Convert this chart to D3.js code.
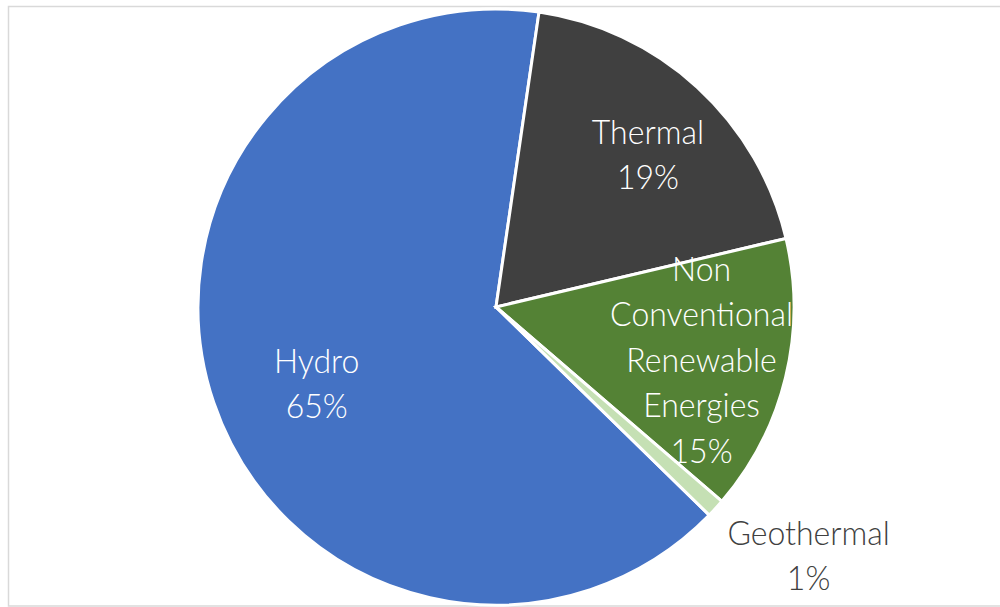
<!DOCTYPE html>
<html>
<head>
<meta charset="utf-8">
<script src="https://cdn.jsdelivr.net/npm/d3@7"></script>
<style>
  html, body { margin: 0; padding: 0; background: #fff; }
  svg { display: block; }
</style>
</head>
<body>
<svg id="chart" width="1000" height="607"></svg>
<script>
// Electricity generation mix by source (share of total, %)
const categories = ["Hydro", "Thermal", "Non Conventional Renewable Energies", "Geothermal"];
const shares = [65, 19, 15, 1];
const labelLines = [
  ["Hydro", "65%"],
  ["Thermal", "19%"],
  ["Non", "Conventional", "Renewable", "Energies", "15%"],
  ["Geothermal", "1%"]
];
const colors = ["#4472C4", "#404040", "#548235", "#C5E0B4"];

const W = 1000, H = 607;
const cx = 496, cy = 307, R = 298;

const svg = d3.select("#chart");

// chart frame
svg.append("rect")
  .attr("x", 8.5).attr("y", 6.5)
  .attr("width", 1000).attr("height", 599.5)
  .attr("fill", "#fff")
  .attr("stroke", "#d9d9d9")
  .attr("stroke-width", 1.5);

const data = categories.map((c, i) => ({ name: c, value: shares[i], lines: labelLines[i], color: colors[i] }));

// first slice (Hydro) begins at ~134 degrees clockwise from 12 o'clock
const start = 134.3 * Math.PI / 180;
const pie = d3.pie().value(d => d.value).sort(null)
  .startAngle(start).endAngle(start + 2 * Math.PI);
const arcs = pie(data);

const arc = d3.arc().innerRadius(0).outerRadius(R);

const g = svg.append("g").attr("transform", `translate(${cx},${cy})`);

g.selectAll("path.slice")
  .data(arcs)
  .join("path")
  .attr("class", "slice")
  .attr("d", arc)
  .attr("fill", d => d.data.color)
  .attr("stroke", "#fff")
  .attr("stroke-width", 3)
  .attr("stroke-linejoin", "miter");

// label placement: radial distance (fraction of R), extra offset, line height
const labelRadius = [0.66, 0.72, 0.71, 1.3];
const labelShift = [[7, 14], [7, 6], [0, 3], [27, -13]];
const lineH = 45.5;

const labels = g.selectAll("text.lbl")
  .data(arcs)
  .join("text")
  .attr("class", "lbl")
  .attr("text-anchor", "middle")
  .attr("font-family", "Lato, 'Open Sans', sans-serif")
  .attr("font-weight", 300)
  .attr("font-size", 33)
  .attr("fill", (d, i) => i === 3 ? "#404040" : "#ffffff")
  .attr("transform", (d, i) => {
    const a = (d.startAngle + d.endAngle) / 2;
    const r = R * labelRadius[i];
    const x = Math.sin(a) * r + labelShift[i][0];
    const y = -Math.cos(a) * r + labelShift[i][1];
    return `translate(${x},${y}) scale(0.97,1)`;
  });

labels.each(function(d) {
  const n = d.data.lines.length;
  d3.select(this).selectAll("tspan")
    .data(d.data.lines)
    .join("tspan")
    .attr("x", 0)
    .attr("y", (t, j) => (j - (n - 1) / 2) * lineH)
    .attr("dy", "0.35em")
    .text(t => t);
});
</script>
</body>
</html>
